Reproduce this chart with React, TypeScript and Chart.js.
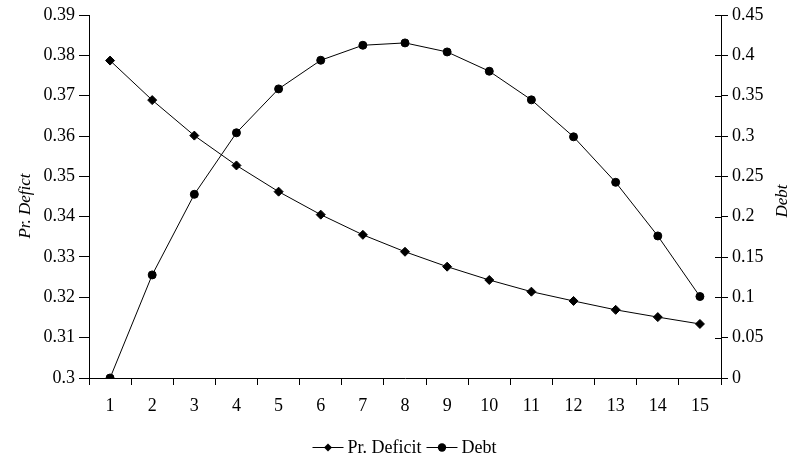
import React, { useEffect, useRef } from "react";
import { Chart, registerables } from "chart.js";

Chart.register(...registerables);

const categories = ["1", "2", "3", "4", "5", "6", "7", "8", "9", "10", "11", "12", "13", "14", "15"];
const prDeficit = [0.3787, 0.3689, 0.3601, 0.3527, 0.3462, 0.3405, 0.3355, 0.3313, 0.3276, 0.3243, 0.3214, 0.3191, 0.3169, 0.3151, 0.3134];
const debt = [0.0, 0.1278, 0.2277, 0.304, 0.3584, 0.3939, 0.4125, 0.4154, 0.4042, 0.3803, 0.3448, 0.299, 0.2426, 0.1761, 0.101];
const leftTitle = "Pr. Defict";
const rightTitle = "Debt";
const seriesNames = ["Pr. Deficit", "Debt"];

const FONT = "'Liberation Serif', 'Times New Roman', serif";
const FS = 18;

const fmt = (v: number) => String(Math.round(v * 100) / 100);

const extrasPlugin = {
  id: "extras",
  afterDraw(chart: any) {
    const ctx = chart.ctx as CanvasRenderingContext2D;
    const area = chart.chartArea;
    const y1 = chart.scales.y1;
    ctx.save();
    // inner part of right-axis ticks (they cross the axis)
    ctx.strokeStyle = "#000";
    ctx.lineWidth = 1;
    ctx.beginPath();
    y1.ticks.forEach((t: any) => {
      const py = Math.round(y1.getPixelForValue(t.value)) + 0.5;
      ctx.moveTo(area.right - 6, py);
      ctx.lineTo(area.right, py);
    });
    ctx.stroke();

    // axis titles
    ctx.fillStyle = "#000";
    ctx.font = `italic ${FS - 1}px ${FONT}`;
    ctx.textAlign = "center";
    ctx.textBaseline = "middle";
    ctx.save();
    ctx.translate(25.5, 206);
    ctx.rotate(-Math.PI / 2);
    ctx.fillText(leftTitle, 0, 0);
    ctx.restore();
    ctx.save();
    ctx.translate(783, 201);
    ctx.rotate(-Math.PI / 2);
    ctx.fillText(rightTitle, 0, 0);
    ctx.restore();

    // legend
    ctx.font = `${FS}px ${FONT}`;
    ctx.textAlign = "left";
    const lineLen = 31;
    const gap = 4;
    const itemGap = 5;
    const widths = seriesNames.map((n) => ctx.measureText(n).width);
    const total = widths.reduce((a, w) => a + lineLen + gap + w, 0) + itemGap * (seriesNames.length - 1);
    let x = chart.width / 2 + 3 - total / 2;
    const ly = 447;
    seriesNames.forEach((name, i) => {
      ctx.strokeStyle = "#000";
      ctx.lineWidth = 1;
      ctx.beginPath();
      ctx.moveTo(x, ly + 0.5);
      ctx.lineTo(x + lineLen, ly + 0.5);
      ctx.stroke();
      const cx = x + lineLen / 2;
      ctx.fillStyle = "#000";
      ctx.beginPath();
      if (i === 0) {
        const r = 4;
        ctx.moveTo(cx, ly + 0.5 - r);
        ctx.lineTo(cx + r, ly + 0.5);
        ctx.lineTo(cx, ly + 0.5 + r);
        ctx.lineTo(cx - r, ly + 0.5);
        ctx.closePath();
      } else {
        ctx.arc(cx, ly + 0.5, 4.2, 0, Math.PI * 2);
      }
      ctx.fill();
      ctx.textBaseline = "middle";
      ctx.fillText(name, x + lineLen + gap, ly + 1);
      x += lineLen + gap + widths[i] + itemGap;
    });
    ctx.restore();
  },
};

export default function App() {
  const ref = useRef<HTMLCanvasElement | null>(null);
  useEffect(() => {
    document.body.style.margin = "0";
    const canvas = ref.current!;
    const chart = new Chart(canvas, {
      type: "line",
      data: {
        labels: categories,
        datasets: [
          {
            label: seriesNames[0],
            data: prDeficit,
            yAxisID: "y",
            borderColor: "#000",
            backgroundColor: "#000",
            borderWidth: 1,
            pointStyle: "rectRot",
            pointRadius: 4.5,
            pointBorderWidth: 1,
            pointBorderColor: "#000",
            tension: 0,
          },
          {
            label: seriesNames[1],
            data: debt,
            yAxisID: "y1",
            borderColor: "#000",
            backgroundColor: "#000",
            borderWidth: 1,
            pointStyle: "circle",
            pointRadius: 4,
            pointBorderWidth: 1,
            pointBorderColor: "#000",
            tension: 0,
          },
        ],
      },
      options: {
        animation: false,
        responsive: false,
        layout: { padding: { top: 15, bottom: 0, left: 0, right: 0 } },
        plugins: { legend: { display: false }, tooltip: { enabled: false } },
        font: { family: FONT, size: FS },
        scales: {
          x: {
            offset: true,
            grid: { offset: true, drawOnChartArea: false, drawTicks: true, tickLength: 7, color: "#000" },
            border: { display: true, color: "#000" },
            ticks: { color: "#000", padding: 10, font: { family: FONT, size: FS }, maxRotation: 0, autoSkip: false },
            afterFit: (s: any) => { s.height = 84; },
          },
          y: {
            position: "left",
            min: 0.3,
            max: 0.39,
            grid: { drawOnChartArea: false, drawTicks: true, tickLength: 10, color: "#000" },
            border: { display: true, color: "#000" },
            ticks: { stepSize: 0.01, color: "#000", padding: 4, font: { family: FONT, size: FS }, callback: (v: any) => fmt(Number(v)) },
            afterFit: (s: any) => { s.width = 89; },
          },
          y1: {
            position: "right",
            min: 0,
            max: 0.45,
            grid: { drawOnChartArea: false, drawTicks: true, tickLength: 7, color: "#000" },
            border: { display: true, color: "#000" },
            ticks: { stepSize: 0.05, color: "#000", padding: 4, font: { family: FONT, size: FS }, callback: (v: any) => fmt(Number(v)) },
            afterFit: (s: any) => { s.width = 82; },
          },
        },
      },
      plugins: [extrasPlugin],
    });
    return () => chart.destroy();
  }, []);
  return (
    <div style={{ position: "relative", width: 803, height: 462, background: "#fff" }}>
      <canvas ref={ref} width={803} height={462} style={{ display: "block" }} />
    </div>
  );
}
